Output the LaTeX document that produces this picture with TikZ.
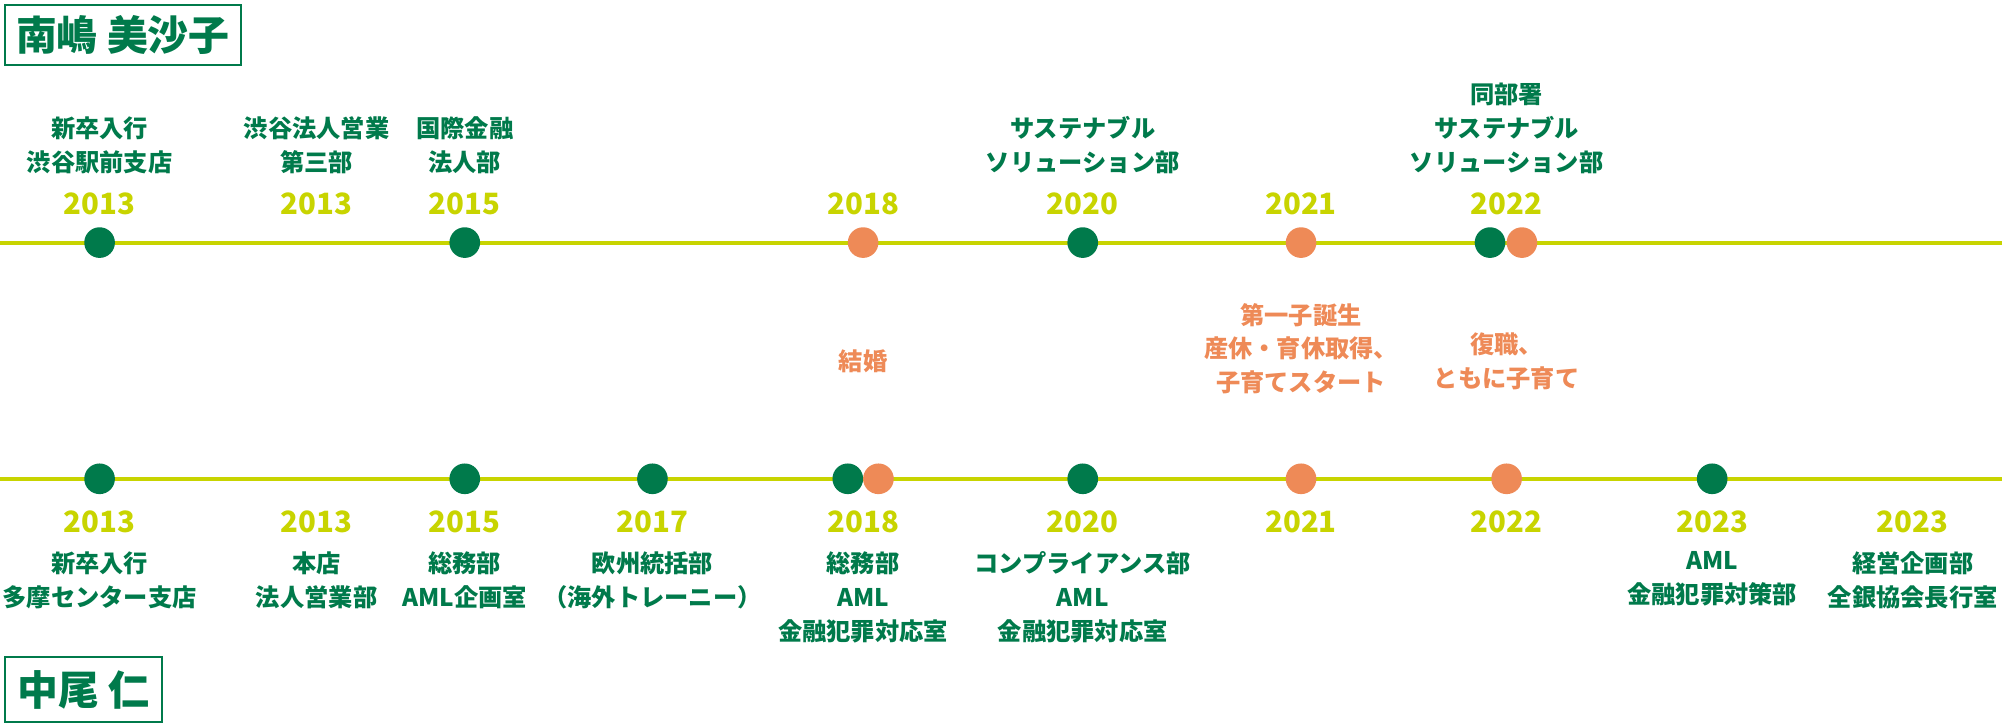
\documentclass[tikz,border=0pt]{standalone}
\usepackage{fontspec}
\setmainfont{Noto Sans CJK JP}
\definecolor{grn}{HTML}{007A4B}
\definecolor{org}{HTML}{EE8A57}
\definecolor{lim}{HTML}{C8D400}
\begin{document}
\begin{tikzpicture}[x=1pt,y=-1pt,
  gdot/.style={circle,fill=grn,minimum size=24pt,inner sep=0},
  odot/.style={circle,fill=org,minimum size=24pt,inner sep=0},
  yr/.style={text=lim,font=\bfseries\fontsize{23}{26}\selectfont,inner sep=0},
  lab/.style={text=grn,font=\bfseries\fontsize{19}{26.5}\selectfont,align=center,inner sep=0},
  olab/.style={text=org,font=\bfseries\fontsize{19}{26.5}\selectfont,align=center,inner sep=0},
  namebox/.style={draw=grn,line width=1.5pt,text=grn,font=\bfseries\fontsize{32}{36}\selectfont,inner sep=0,anchor=north west}]
\useasboundingbox (0,0) rectangle (1568,567);
% name boxes
\node[namebox,minimum width=185pt,minimum height=47pt] (n1) at (3,3) {南嶋 美沙子};
\node[namebox,minimum width=123pt,minimum height=51pt] (n2) at (3,514) {中尾 仁};
% lines
\coordinate (t0) at (0,190); \coordinate (t1) at (1568,190);
\coordinate (b0) at (0,375); \coordinate (b1) at (1568,375);
\draw[lim,line width=3pt] (t0) -- (t1);
\draw[lim,line width=3pt] (b0) -- (b1);
% top dots
\node[gdot] (ta) at (78,190) {};
\node[gdot] (tb) at (364,190) {};
\node[odot] (tc) at (676,190) {};
\node[gdot] (td) at (848,190) {};
\node[odot] (te) at (1019,190) {};
\node[gdot] (tf) at (1167,190) {};
\node[odot] (tg) at (1192,190) {};
% top years
\node[yr] (ty1) at (78,160) {2013};
\node[yr] (ty2) at (248,160) {2013};
\node[yr] (ty3) at (364,160) {2015};
\node[yr] (ty4) at (676,160) {2018};
\node[yr] (ty5) at (848,160) {2020};
\node[yr] (ty6) at (1019,160) {2021};
\node[yr] (ty7) at (1180,160) {2022};
% top labels
\node[lab,anchor=south] (tl1) at (78,136) {新卒入行\\渋谷駅前支店};
\node[lab,anchor=south] (tl2) at (248,136) {渋谷法人営業\\第三部};
\node[lab,anchor=south] (tl3) at (364,136) {国際金融\\法人部};
\node[lab,anchor=south] (tl4) at (848,136) {サステナブル\\ソリューション部};
\node[lab,anchor=south] (tl5) at (1180,136) {同部署\\サステナブル\\ソリューション部};
% middle
\node[olab] (m1) at (676,283) {結婚};
\node[olab] (m2) at (1019,273) {第一子誕生\\産休・育休取得、\\子育てスタート};
\node[olab] (m3) at (1180,283) {復職、\\ともに子育て};
% bottom dots
\node[gdot] (ba) at (78,375) {};
\node[gdot] (bb) at (364,375) {};
\node[gdot] (bc) at (511,375) {};
\node[gdot] (bd) at (664,375) {};
\node[odot] (be) at (688,375) {};
\node[gdot] (bf) at (848,375) {};
\node[odot] (bg) at (1019,375) {};
\node[odot] (bh) at (1180,375) {};
\node[gdot] (bi) at (1341,375) {};
% bottom years
\node[yr] (by1) at (78,409) {2013};
\node[yr] (by2) at (248,409) {2013};
\node[yr] (by3) at (364,409) {2015};
\node[yr] (by4) at (511,409) {2017};
\node[yr] (by5) at (676,409) {2018};
\node[yr] (by6) at (848,409) {2020};
\node[yr] (by7) at (1019,409) {2021};
\node[yr] (by8) at (1180,409) {2022};
\node[yr] (by9) at (1341,409) {2023};
\node[yr] (by10) at (1498,409) {2023};
% bottom labels
\node[lab,anchor=north] (bl1) at (78,432) {新卒入行\\多摩センター支店};
\node[lab,anchor=north] (bl2) at (248,432) {本店\\法人営業部};
\node[lab,anchor=north] (bl3) at (364,432) {総務部\\AML企画室};
\node[lab,anchor=north] (bl4) at (511,432) {欧州統括部\\（海外トレーニー）};
\node[lab,anchor=north] (bl5) at (676,432) {総務部\\AML\\金融犯罪対応室};
\node[lab,anchor=north] (bl6) at (848,432) {コンプライアンス部\\AML\\金融犯罪対応室};
\node[lab,anchor=north] (bl7) at (1341,432) {AML\\金融犯罪対策部};
\node[lab,anchor=north] (bl8) at (1498,432) {経営企画部\\全銀協会長行室};
\end{tikzpicture}
\end{document}
